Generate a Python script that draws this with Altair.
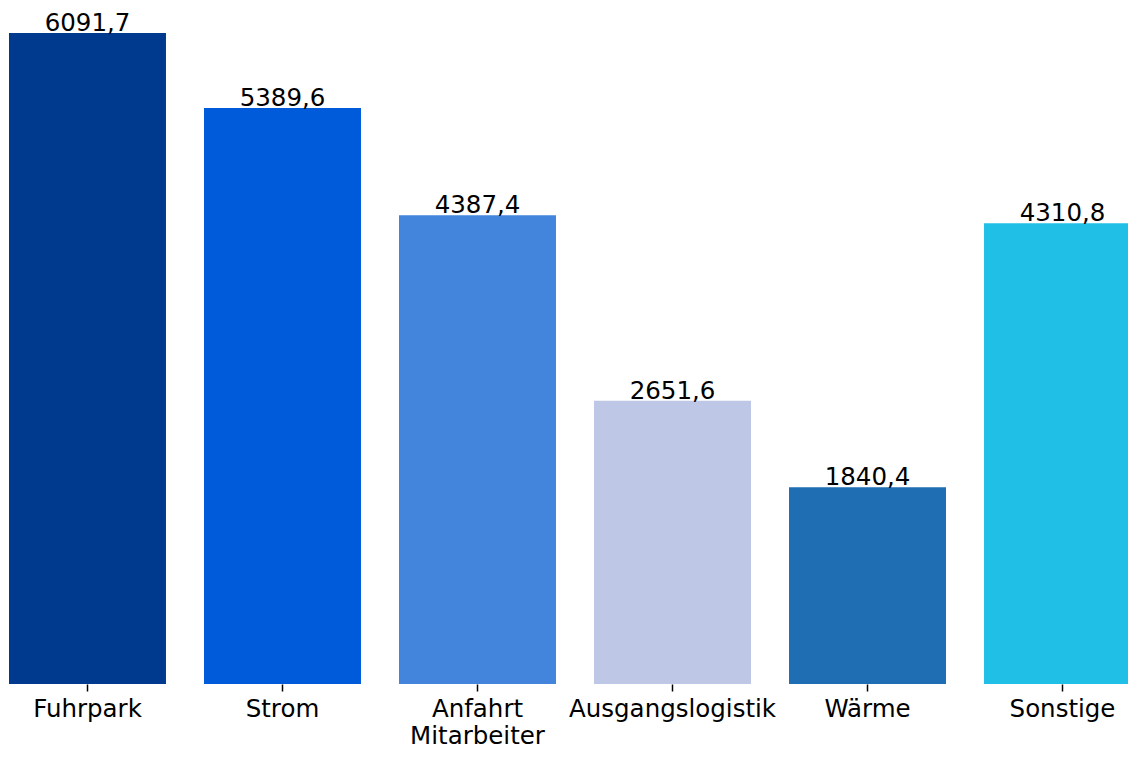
import altair as alt
import pandas as pd

categories = ["Fuhrpark", "Strom", "Anfahrt\nMitarbeiter", "Ausgangslogistik", "Wärme", "Sonstige"]
values = [6091.7, 5389.6, 4387.4, 2651.6, 1840.4, 4310.8]
colors = ["#003a8f", "#005bdb", "#4384dc", "#bec8e6", "#1f6eb3", "#20bfe6"]

df = pd.DataFrame({"cat": categories, "val": values})

x = alt.X("cat:N", sort=categories, title=None,
          scale=alt.Scale(paddingInner=0.195, paddingOuter=0),
          axis=alt.Axis(domain=False, ticks=True, tickSize=7, tickWidth=1.5, tickColor="#000000",
                        labelAngle=0, labelFontSize=24.5, labelFont="DejaVu Sans", labelColor="#000000",
                        labelPadding=6, labelLineHeight=27.5, labelLimit=0,
                        labelExpr="split(datum.label, '\\n')"))
y = alt.Y("val:Q", scale=alt.Scale(domain=[0, 6091.7], nice=False, zero=True), axis=None)

bars = alt.Chart(df).mark_bar().encode(
    x=x, y=y,
    color=alt.Color("cat:N", sort=categories, scale=alt.Scale(domain=categories, range=colors), legend=None),
)
text = alt.Chart(df).transform_calculate(
    lbl="replace(format(datum.val, '.1f'), '.', ',')"
).mark_text(baseline="alphabetic", dy=-2, fontSize=24.5, font="DejaVu Sans", color="#000000").encode(
    x=x, y=y, text="lbl:N"
)

chart = (bars + text).properties(
    width=1132, height=651,
    padding={"left": 1, "top": 25, "right": -13, "bottom": 66},
    autosize=alt.AutoSizeParams(type="none"),
).configure_view(stroke=None)

chart.save("out.html", embed_options={"renderer": "svg", "actions": False})
